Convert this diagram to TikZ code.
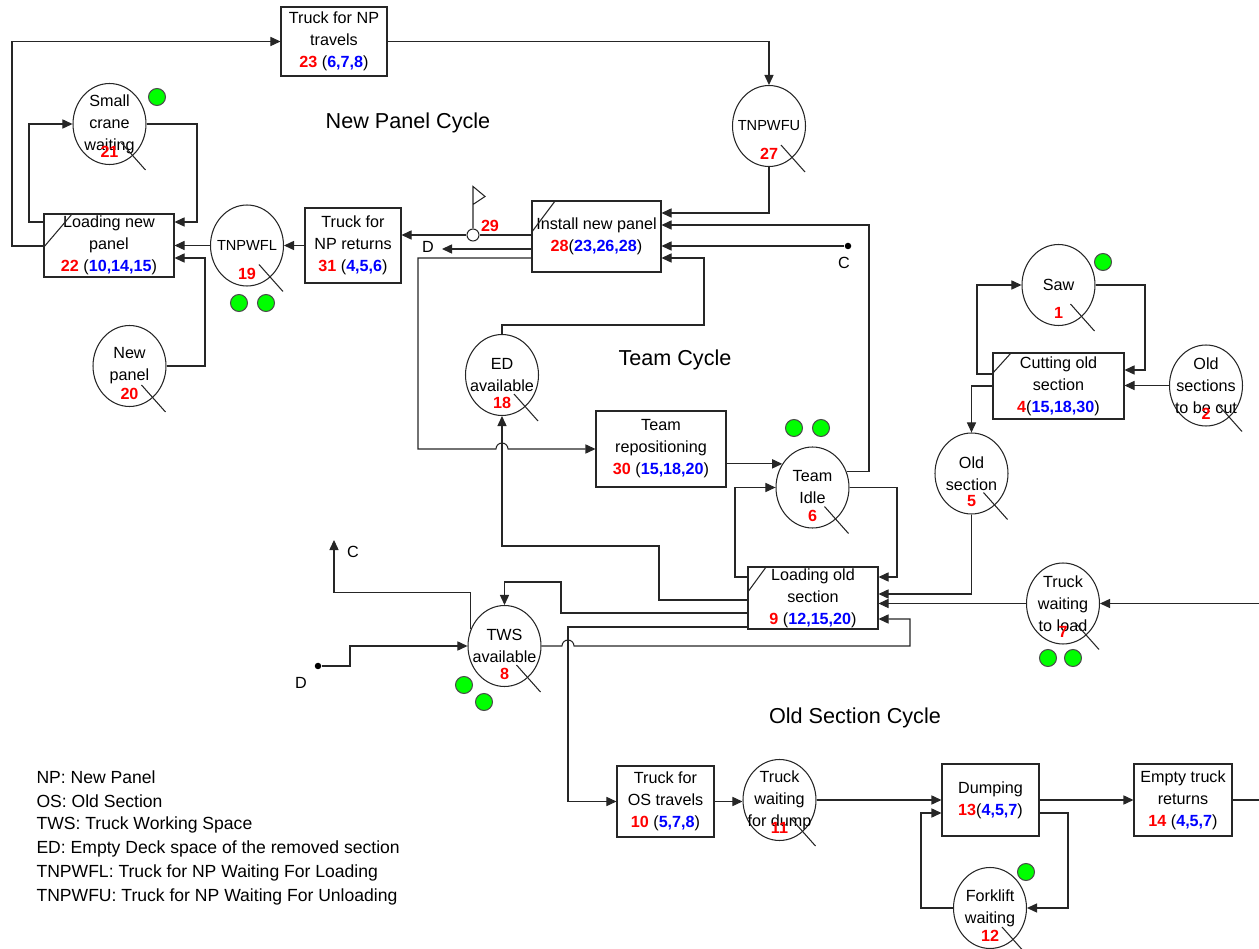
\documentclass[tikz,border=0pt]{standalone}
\usepackage{fontspec}
\setmainfont{Liberation Sans}
\usepackage{xcolor}
\usetikzlibrary{arrows.meta,shapes.geometric}
\definecolor{numred}{HTML}{FF0000}
\definecolor{idblue}{HTML}{0000FF}
\definecolor{tokgreen}{HTML}{00FF00}
\newcommand{\rnum}[1]{{\color{numred}\bfseries #1}}
\newcommand{\bnum}[1]{{\color{idblue}\bfseries #1}}
% queue node: name, position, text, number
\newcommand{\mkplace}[5][]{%
  \node[place] (#2) at (#3) {};
  \node[ptext,#1] (#2t) at (#2.center) {#4};
  \node[pnum] (#2n) at ([shift={(0,28)}]#2.center) {#5};
  \draw[link] ([shift={(12,19)}]#2.center) -- ++(24,27);}

\begin{document}
\begin{tikzpicture}[x=0.02cm,y=-0.02cm,
  font=\fontsize{9.2}{12.5}\selectfont,
  line width=0.6pt,
  box/.style={draw=black!85,rectangle,inner sep=0pt,align=center},
  place/.style={draw=black!85,ellipse,minimum width=1.46cm,minimum height=1.62cm,
                inner sep=0pt},
  ptext/.style={inner sep=0pt,align=center},
  pnum/.style={text=numred,font=\fontsize{9.2}{11}\selectfont\bfseries,inner sep=0pt},
  link/.style={draw=black!85},
  arr/.style={draw=black!85,-{Triangle[length=5.7pt,width=5.2pt]}},
  token/.style={circle,draw=black!70,fill=tokgreen,minimum size=0.34cm,inner sep=0pt},
  title/.style={font=\fontsize{12.3}{14}\selectfont},
  legend/.style={anchor=west,inner sep=0pt,font=\fontsize{10}{12}\selectfont},
  tag/.style={inner sep=0pt,font=\fontsize{9.2}{11}\selectfont},
  dot/.style={circle,fill=black,minimum size=0.13cm,inner sep=0pt},
]
\useasboundingbox (0,0) rectangle (1259,949);

% activities
\node[box,minimum width=2.12cm,minimum height=1.38cm] (tnpt) at (334,41.5)
  {Truck for NP\\travels\\\rnum{23} (\bnum{6,7,8})};
\node[box,minimum width=2.6cm,minimum height=1.26cm] (lnp) at (109,245.5)
  {Loading new\\panel\\\rnum{22} (\bnum{10,14,15})};
\node[box,minimum width=1.92cm,minimum height=1.5cm] (tnpr) at (353,245.5)
  {Truck for\\NP returns\\\rnum{31} (\bnum{4,5,6})};
\node[box,minimum width=2.58cm,minimum height=1.42cm] (inp) at (596.5,236.5)
  {Install new panel\\\rnum{28}(\bnum{23,26,28})};
\node[box,minimum width=2.62cm,minimum height=1.32cm] (cos) at (1058.5,386)
  {Cutting old\\section\\\rnum{4}(\bnum{15,18,30})};
\node[box,minimum width=2.6cm,minimum height=1.52cm] (trepo) at (661,449)
  {Team\\repositioning\\\rnum{30} (\bnum{15,18,20})};
\node[box,minimum width=2.6cm,minimum height=1.24cm] (los) at (813,598)
  {Loading old\\section\\\rnum{9} (\bnum{12,15,20})};
\node[box,minimum width=1.94cm,minimum height=1.42cm] (tost) at (665.5,801.5)
  {Truck for\\OS travels\\\rnum{10} (\bnum{5,7,8})};
\node[box,minimum width=1.94cm,minimum height=1.44cm] (dump) at (990.5,800)
  {Dumping\\\rnum{13}(\bnum{4,5,7})};
\node[box,minimum width=1.96cm,minimum height=1.44cm] (etr) at (1183,800)
  {Empty truck\\returns\\\rnum{14} (\bnum{4,5,7})};
\foreach \b/\h/\w in {lnp/34/29,inp/32/24,cos/21/19,los/26/19}
  \draw[link] ([shift={(0,\h)}]\b.north west) -- ++(\w,-\h);

% queues
\mkplace{scw}{109.5,124}{Small\\crane\\waiting}{21}
\mkplace[font=\fontsize{8.3}{10}\selectfont]{tnpwfl}{247,245.5}{TNPWFL}{19}
\mkplace[font=\fontsize{8.3}{10}\selectfont]{tnpwfu}{769,126}{TNPWFU}{27}
\mkplace{npan}{129.5,366}{New\\panel}{20}
\mkplace{eda}{502,375}{ED\\available}{18}
\mkplace{tidle}{812.5,487.5}{Team\\Idle}{6}
\mkplace{saw}{1058.5,285}{Saw}{1}
\mkplace{ostbc}{1206,385.5}{Old\\sections\\to be cut}{2}
\mkplace{osec}{971.5,473.5}{Old\\section}{5}
\mkplace{twl}{1063,603.5}{Truck\\waiting\\to load}{7}
\mkplace{tws}{504.5,646}{TWS\\available}{8}
\mkplace{twd}{779.5,800}{Truck\\waiting\\for dump}{11}
\mkplace{fw}{990,908}{Forklift\\waiting}{12}

% resources
\foreach \p [count=\i] in {(157,97),(239,303),(266,303),(794,428),(821,428),(1103,262),
    (1048,658),(1073,658),(464,685),(484,702),(1026,872)}
  \node[token] (tk\i) at \p {};

% counter and connectors C, D
\node[draw=black!85,circle,minimum size=0.24cm,inner sep=0pt] (fl29) at (473,235) {};
\draw[link] (fl29.north) -- ++(0,-42) -- ++(12,10) -- ++(-12,8);
\node[pnum] (n29) at (490,226) {29};
\node[dot] (cdot) at (848,246) {};
\node[tag] (clab) at (844,263) {C};
\node[dot] (ddot) at (318,666) {};
\node[tag] (dlab) at (301,683) {D};
\coordinate (dend) at (442,249);
\node[tag] (dlab2) at (428,247) {D};
\coordinate (cup) at (334,540);
\node[tag] (clab2) at (353,552) {C};
\coordinate (edge1) at (1259,603.5);
\coordinate (edge2) at (1259,800);

% new panel cycle
\draw[arr] (lnp.west |- 0,246) -- (12,246) |- (tnpt.west);
\draw[arr] (tnpt.east) -| (tnpwfu.north);
\draw[arr] (tnpwfu.south) |- (inp.east |- 0,213);
\draw[link] (inp.west |- 0,235) -- (fl29.east);
\draw[arr] (fl29.west) -- (tnpr.east |- 0,235);
\draw[arr] (inp.west |- 0,249) -- (dend);
\draw[arr] (inp.west |- 0,258) -| (418,449) -- (496,449)
  arc[start angle=180,end angle=360,radius=6] -- (trepo.west);
\draw[arr] (tnpr.west) -- (tnpwfl.east);
\draw[arr] (tnpwfl.west) -- (lnp.east);
\draw[arr] (scw.east) -| (197,222) -- (lnp.east |- 0,222);
\draw[arr] (lnp.west |- 0,222) -- (29,222) |- (scw.west);
\draw[arr] (npan.east) -| (205,258) -- (lnp.east |- 0,258);
\draw[arr] (tidle.25) -| (869,225) -- (inp.east |- 0,225);
\draw[arr] (cdot) -- (inp.east |- cdot);
\draw[arr] (eda.north) -- ++(0,-9) -| (704,258) -- (inp.east |- 0,258);

% team cycle
\draw[arr] (trepo.east |- tidle.142) -- (tidle.142);
\draw[arr] (los.west |- 0,577) -- (735,577) |- (tidle.west);
\draw[arr] (tidle.east) -| (897,577) -- (los.east |- 0,577);
\draw[arr] (osec.south) |- (los.east |- 0,594);
\draw[arr] (twl.west) -- (los.east |- twl.west);
\draw[arr] (edge1) -- (twl.east);
\draw[arr] (tws.east) -- (562,646) arc[start angle=180,end angle=360,radius=6]
  -| (910,619) -- (los.east |- 0,619);
\draw[arr] (los.west |- 0,627) -- (568,627) |- (tost.west);
\draw[arr] (los.west |- 0,613) -| (561,582) -| (tws.north);
\draw[arr] (los.west |- 0,600) -| (659,546) -| (eda.south);
\draw[arr] (tws.154) -- ++(0,-37) -| (cup);
\draw[arr] (ddot) -| (350,646) -- (tws.west);

% old section cycle
\draw[arr] (cos.west |- 0,374) -- (977,374) |- (saw.west);
\draw[arr] (saw.east) -| (1145,370) -- (cos.east |- 0,370);
\draw[arr] (ostbc.west) -- (cos.east |- ostbc.west);
\draw[arr] (cos.west |- 0,386) -| (osec.north);
\draw[arr] (tost.east) -- (twd.west |- tost.east);
\draw[arr] (twd.east) -- (dump.west);
\draw[arr] (dump.east |- 0,813) -- (1068,813) |- (fw.east);
\draw[arr] (fw.west) -| (921,813) -- (dump.west |- 0,813);
\draw[arr] (dump.east) -- (etr.west);
\draw[link] (etr.east) -- (edge2);

% titles and legend
\node[title] (t1) at (408,123) {New Panel Cycle};
\node[title] (t2) at (675,360) {Team Cycle};
\node[title] (t3) at (855,718) {Old Section Cycle};
\foreach \t [count=\i] in {{NP: New Panel},{OS: Old Section},{TWS: Truck Working Space},
    {ED: Empty Deck space of the removed section},
    {TNPWFL: Truck for NP Waiting For Loading},{TNPWFU: Truck for NP Waiting For Unloading}}
  \node[legend] (lg\i) at (36,{753+24*\i}) {\t};
\end{tikzpicture}
\end{document}
